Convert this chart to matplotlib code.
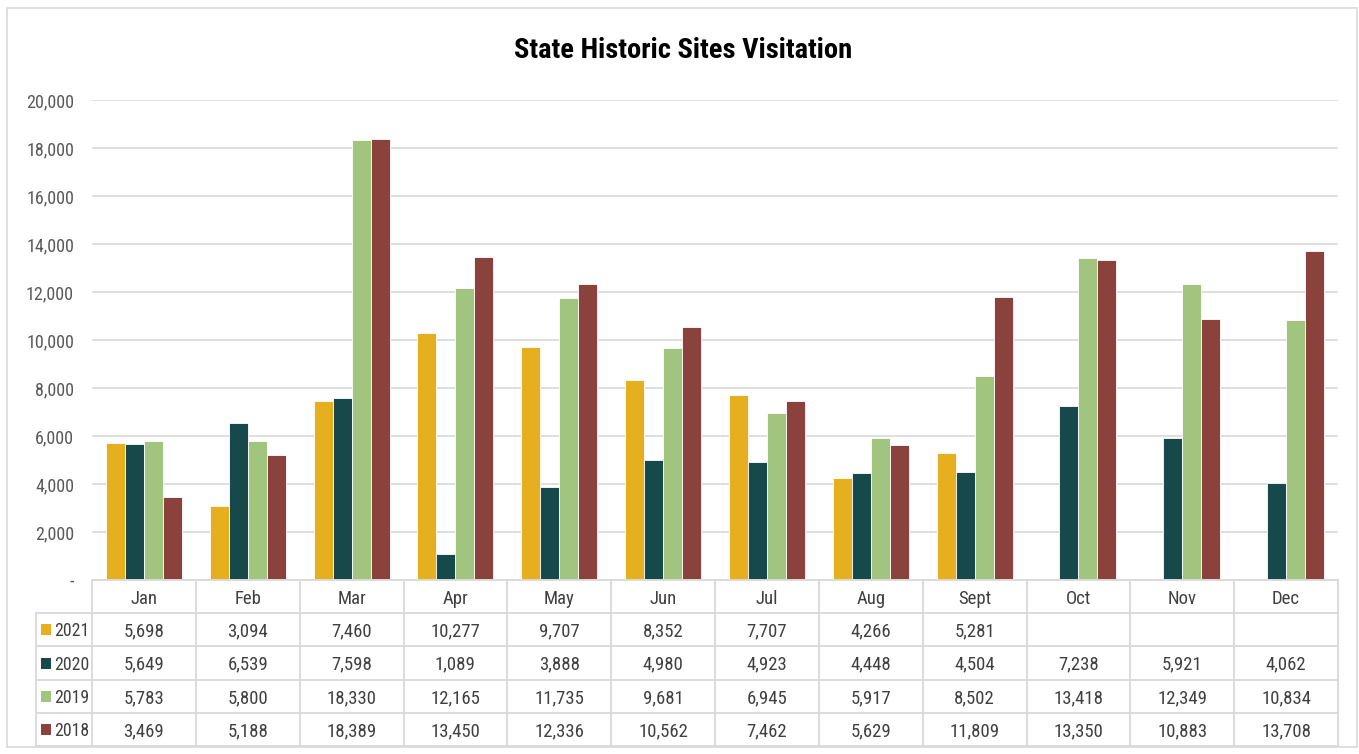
import matplotlib
matplotlib.use("Agg")
import matplotlib.pyplot as plt
from matplotlib.patches import Rectangle
from matplotlib import font_manager
import numpy as np

months = ["Jan", "Feb", "Mar", "Apr", "May", "Jun", "Jul", "Aug", "Sept", "Oct", "Nov", "Dec"]
years = ["2021", "2020", "2019", "2018"]
v2021 = [5698, 3094, 7460, 10277, 9707, 8352, 7707, 4266, 5281, None, None, None]
v2020 = [5649, 6539, 7598, 1089, 3888, 4980, 4923, 4448, 4504, 7238, 5921, 4062]
v2019 = [5783, 5800, 18330, 12165, 11735, 9681, 6945, 5917, 8502, 13418, 12349, 10834]
v2018 = [3469, 5188, 18389, 13450, 12336, 10562, 7462, 5629, 11809, 13350, 10883, 13708]
colors = ["#E5AF20", "#17484A", "#A1C57E", "#8B413C"]
series = [v2021, v2020, v2019, v2018]
yticks = [0, 2000, 4000, 6000, 8000, 10000, 12000, 14000, 16000, 18000, 20000]

avail = {f.name for f in font_manager.fontManager.ttflist}
fam = "DejaVu Sans"
for cand in ["Liberation Sans Narrow", "Roboto Condensed", "Open Sans Condensed", "Lato"]:
    if cand in avail:
        fam = cand
        break
plt.rcParams["font.family"] = [fam, "DejaVu Sans"]

W, H = 1359, 754
fig = plt.figure(figsize=(W / 100, H / 100), dpi=100)
def fx(px): return px / W
def fy(py): return 1 - py / H

# outer border
fig.add_artist(Rectangle((fx(7), fy(747)), fx(1350), 739 / H, transform=fig.transFigure,
                         fill=False, edgecolor="#D9D9D9", lw=1.2))

x0, x1, ytop, ybot = 92, 1338, 100, 580
ax = fig.add_axes([fx(x0), fy(ybot), fx(x1 - x0), (ybot - ytop) / H])
n = len(months)
x = np.arange(n)
bw = 0.183
for i, (vals, c) in enumerate(zip(series, colors)):
    vv = [np.nan if v is None else v for v in vals]
    ax.bar(x + (i - 1.5) * bw, vv, width=bw, color=c, edgecolor="white", linewidth=0.6, zorder=3)
ax.set_xlim(-0.5, n - 0.5)
ax.set_ylim(0, 20000)
ax.set_yticks(yticks)
ax.set_yticklabels(["-"] + [f"{t:,}" for t in yticks[1:]], fontsize=13, color="#595959")
ax.tick_params(axis="y", length=0, pad=13)
ax.set_xticks([])
ax.grid(axis="y", color="#D9D9D9", lw=1.2, zorder=0)
for s in ax.spines.values():
    s.set_visible(False)
ax.axhline(0, color="#D9D9D9", lw=1.2, zorder=4)

fig.text(fx(683), fy(51), "State Historic Sites Visitation", ha="center", va="center",
         fontsize=20.5, fontweight="bold", color="black")

# data table
colw = (x1 - x0) / n
rows_y = [580, 613, 646, 680, 713, 746]
lc = "#D9D9D9"
tab_left = 36
def hline(y, xa, xb):
    fig.add_artist(plt.Line2D([fx(xa), fx(xb)], [fy(y), fy(y)], transform=fig.transFigure, color=lc, lw=1.3))
def vline(xp, ya, yb):
    fig.add_artist(plt.Line2D([fx(xp), fx(xp)], [fy(ya), fy(yb)], transform=fig.transFigure, color=lc, lw=1.3))

hline(rows_y[0], x0, x1)
for y in rows_y[1:]:
    hline(y, tab_left, x1)
vline(tab_left, rows_y[1], rows_y[-1])
for j in range(n + 1):
    vline(x0 + j * colw, rows_y[0], rows_y[-1])

tc = "#404040"
fs = 13.5
for j, m in enumerate(months):
    fig.text(fx(x0 + (j + 0.5) * colw), fy((rows_y[0] + rows_y[1]) / 2 + 2), m,
             ha="center", va="center", fontsize=fs, color=tc)
for r, (yr, vals, c) in enumerate(zip(years, series, colors)):
    yc = (rows_y[r + 1] + rows_y[r + 2]) / 2
    fig.add_artist(Rectangle((fx(41), fy(yc + 5.5)), fx(10), 11 / H, transform=fig.transFigure,
                             facecolor=c, edgecolor="none"))
    fig.text(fx(54), fy(yc + 1.5), yr, ha="left", va="center", fontsize=12.8, color=tc)
    for j, v in enumerate(vals):
        if v is None:
            continue
        fig.text(fx(x0 + (j + 0.5) * colw), fy(yc + 1.5), f"{v:,}", ha="center", va="center",
                 fontsize=fs, color=tc)

fig.savefig("out.png", dpi=100, facecolor="white")
